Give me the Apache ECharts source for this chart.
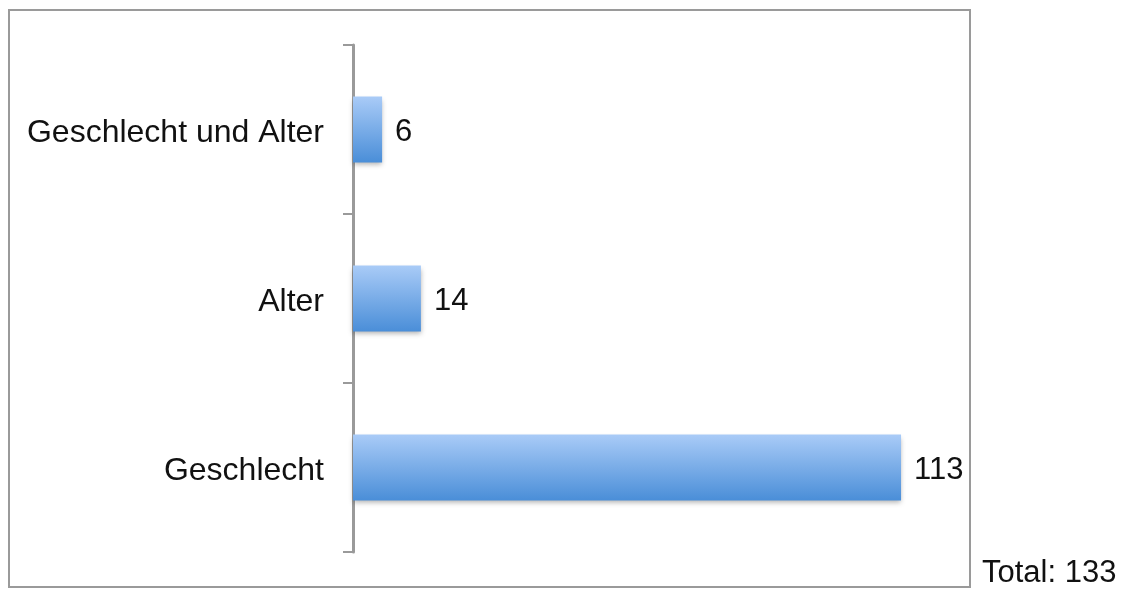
<!DOCTYPE html>
<html>
<head>
<meta charset="utf-8">
<script src="https://cdn.jsdelivr.net/npm/echarts@6/dist/echarts.min.js"></script>
<style>
  html, body { margin: 0; padding: 0; background: #fff; }
  #chart { width: 1125px; height: 589px; }
</style>
</head>
<body>
<div id="chart"></div>
<script>
// Kategorien von unten nach oben
const categories = ['Geschlecht', 'Alter', 'Geschlecht und Alter'];
const counts = [113, 14, 6];
const totalLabel = 'Total: 133';

const chart = echarts.init(document.getElementById('chart'));

const barFill = new echarts.graphic.LinearGradient(0, 0, 0, 1, [
  { offset: 0, color: '#a9cbf7' },
  { offset: 1, color: '#4a8ed8' }
]);

const font = 'Liberation Sans, Arial, sans-serif';

chart.setOption({
  backgroundColor: '#ffffff',
  animation: false,
  grid: { left: 353, top: 45, width: 582, height: 507 },
  xAxis: {
    type: 'value',
    min: 0,
    max: 120,
    show: false
  },
  yAxis: {
    type: 'category',
    data: categories,
    axisLine: { show: true, lineStyle: { color: '#9a9a9a', width: 3 } },
    axisTick: { show: true, length: 10, lineStyle: { color: '#9a9a9a', width: 2 } },
    axisLabel: {
      margin: 29,
      color: '#111',
      formatter: '{c|{value}}',
      rich: {
        c: {
          fontFamily: font,
          fontSize: 32,
          color: '#111',
          padding: [8, 0, 0, 0]
        }
      }
    },
    splitLine: { show: false }
  },
  series: [{
    type: 'bar',
    data: counts,
    barWidth: '39%',
    itemStyle: {
      color: barFill,
      shadowColor: 'rgba(0,0,0,0.3)',
      shadowBlur: 5,
      shadowOffsetY: 3
    },
    label: {
      show: true,
      position: 'right',
      distance: 13,
      offset: [0, 3],
      fontFamily: font,
      fontSize: 31,
      color: '#111'
    }
  }],
  graphic: [
    {
      type: 'rect',
      shape: { x: 9, y: 10, width: 961, height: 577 },
      style: { fill: 'none', stroke: '#9a9a9a', lineWidth: 2 },
      z: -1
    },
    {
      type: 'text',
      left: 982,
      top: 558,
      style: {
        text: totalLabel,
        fontFamily: font,
        fontSize: 31,
        fill: '#111'
      }
    }
  ]
});
</script>
</body>
</html>
